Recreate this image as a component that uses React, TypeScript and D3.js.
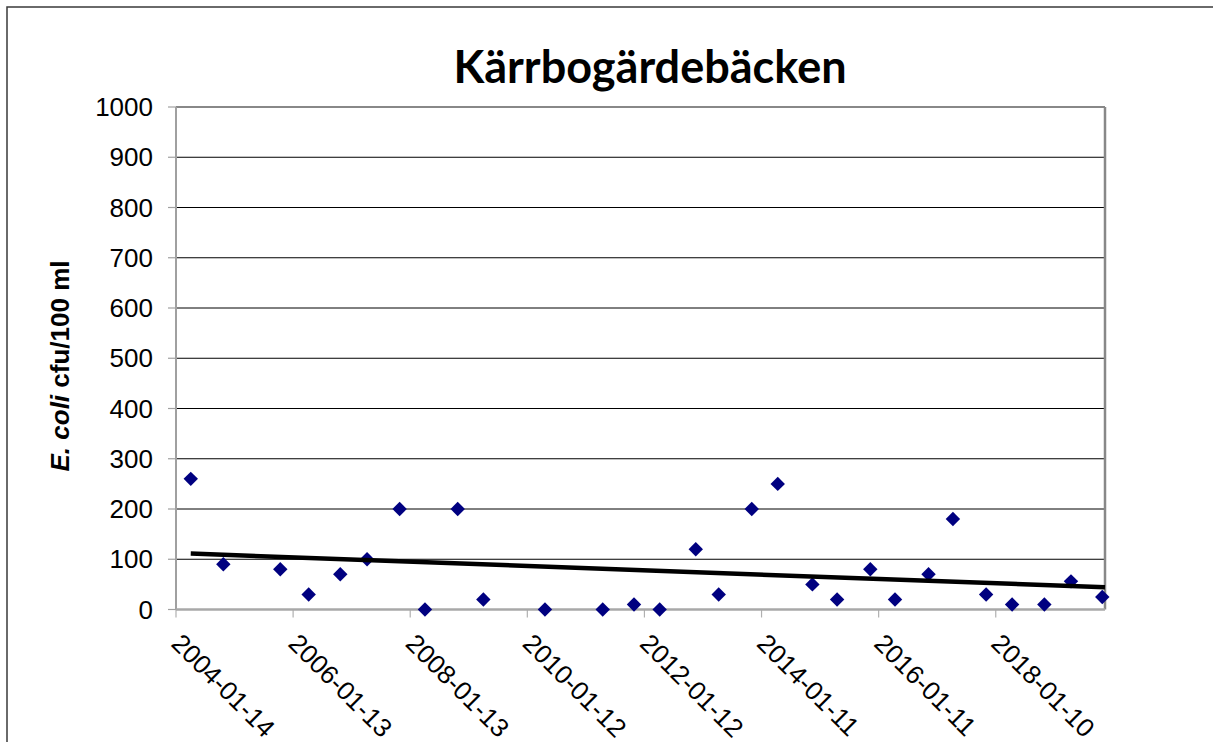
import React from "react";
import * as d3 from "d3";

const sampleDates = [
  "2004-04-15", "2004-11-04", "2005-10-25", "2006-04-20", "2006-11-03",
  "2007-04-19", "2007-11-08", "2008-04-14", "2008-11-04", "2009-04-13",
  "2010-05-02", "2011-04-27", "2011-11-08", "2012-04-16", "2012-11-27",
  "2013-04-19", "2013-11-11", "2014-04-22", "2014-11-24", "2015-04-27",
  "2015-11-20", "2016-04-22", "2016-11-17", "2017-04-18", "2017-11-11",
  "2018-04-22", "2018-11-09", "2019-04-24", "2019-11-05",
];
const ecoliValues = [
  260, 90, 80, 30, 70,
  100, 200, 0, 200, 20,
  0, 0, 10, 0, 120,
  30, 200, 250, 50, 20,
  80, 20, 70, 180, 30,
  10, 10, 56, 25,
];
const xTickLabels = [
  "2004-01-14", "2006-01-13", "2008-01-13", "2010-01-12",
  "2012-01-12", "2014-01-11", "2016-01-11", "2018-01-10",
];
const xDomain = ["2004-01-14", "2019-11-22"];
const yTicks = [0, 100, 200, 300, 400, 500, 600, 700, 800, 900, 1000];
const title = "Kärrbogärdebäcken";

const parse = d3.utcParse("%Y-%m-%d");

export default function App() {
  const W = 1213, H = 742;
  const left = 176, right = 1105, top = 107, bottom = 609.5;

  const x = d3.scaleUtc()
    .domain(xDomain.map((s) => parse(s) as Date))
    .range([left, right]);
  const y = d3.scaleLinear().domain([0, 1000]).range([bottom, top]);

  const pts = sampleDates.map((d, i) => ({ t: parse(d) as Date, v: ecoliValues[i] }));

  // linear trend (least squares)
  const xs = pts.map((p) => +p.t);
  const ys = pts.map((p) => p.v);
  const mx = d3.mean(xs) as number;
  const my = d3.mean(ys) as number;
  let num = 0, den = 0;
  xs.forEach((xv, i) => { num += (xv - mx) * (ys[i] - my); den += (xv - mx) * (xv - mx); });
  const slope = num / den;
  const icpt = my - slope * mx;
  const tStart = pts[0].t, tEnd = parse(xDomain[1]) as Date;
  const trend = [tStart, tEnd].map((t) => ({ t, v: icpt + slope * +t }));
  const line = d3.line<{ t: Date; v: number }>().x((d) => x(d.t)).y((d) => y(d.v));

  const diamond = d3.symbol(d3.symbolSquare, 104)() as string;

  return (
    <svg width={W} height={H} style={{ position: "absolute", left: 0, top: 0, background: "#fff" }}
      fontFamily="'Liberation Sans', Arial, sans-serif">
      <rect x={0} y={0} width={W} height={H} fill="#fff" />
      <rect x={7} y={7} width={1400} height={900} fill="none" stroke="#3a3a3a" strokeWidth={1.5} />

      <text x={650} y={83} textAnchor="middle" fontFamily="Lato, 'Open Sans', sans-serif"
        fontWeight="bold" fontSize={45}>{title}</text>

      {/* gridlines */}
      {yTicks.filter((t) => t > 0 && t < 1000).map((t) => (
        <line key={t} x1={left} x2={right} y1={y(t)} y2={y(t)} stroke="#000" strokeWidth={1} />
      ))}
      {/* y tick marks */}
      {yTicks.map((t) => (
        <line key={"yt" + t} x1={168} x2={left} y1={y(t)} y2={y(t)} stroke="#a0a0a0" strokeWidth={1.2} />
      ))}
      {/* x tick marks */}
      {xTickLabels.map((s) => (
        <line key={"xt" + s} x1={x(parse(s) as Date)} x2={x(parse(s) as Date)} y1={bottom} y2={bottom + 8}
          stroke="#b0b0b0" strokeWidth={1.2} />
      ))}
      {/* plot border */}
      <line x1={left} x2={right} y1={top} y2={top} stroke="#888" strokeWidth={2} />
      <line x1={right} x2={right} y1={top} y2={bottom} stroke="#888" strokeWidth={2.5} />
      <line x1={left} x2={left} y1={top} y2={bottom} stroke="#a0a0a0" strokeWidth={2} />
      <line x1={left} x2={right} y1={bottom} y2={bottom} stroke="#a8a8a8" strokeWidth={2.5} />

      {/* y tick labels */}
      {yTicks.map((t) => (
        <text key={"yl" + t} x={153} y={y(t)} dy="0.35em" textAnchor="end" fontSize={26}>{t}</text>
      ))}
      {/* x tick labels */}
      {xTickLabels.map((s) => (
        <text key={"xl" + s} transform={`translate(${x(parse(s) as Date) - 6},645) rotate(45)`}
          fontSize={26}>{s}</text>
      ))}

      {/* y axis title */}
      <text transform={`translate(69,366) rotate(-90)`} textAnchor="middle" fontSize={26} fontWeight="bold">
        <tspan fontStyle="italic">E. coli</tspan> cfu/100 ml
      </text>

      {/* points */}
      {pts.map((p, i) => (
        <path key={i} d={diamond} transform={`translate(${x(p.t)},${y(p.v)}) rotate(45)`} fill="#000080" />
      ))}

      {/* trend line */}
      <path d={line(trend) as string} fill="none" stroke="#000" strokeWidth={4.5} />
    </svg>
  );
}
